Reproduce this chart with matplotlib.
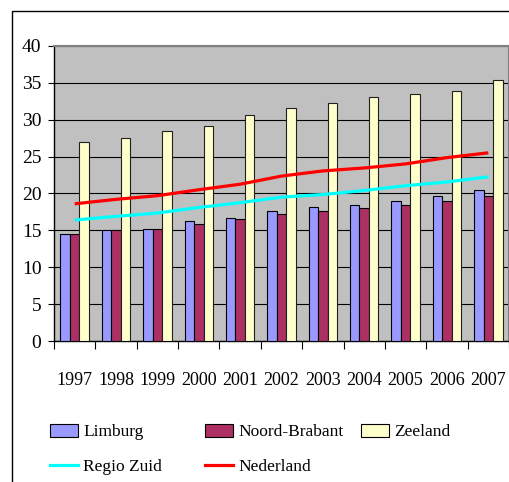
import matplotlib
matplotlib.use("Agg")
import matplotlib.pyplot as plt
import numpy as np
from matplotlib.patches import Rectangle, Patch
from matplotlib.lines import Line2D

years = ["1997", "1998", "1999", "2000", "2001", "2002", "2003", "2004", "2005", "2006", "2007"]
limburg = [14.5, 15.05, 15.25, 16.25, 16.65, 17.6, 18.2, 18.45, 19.0, 19.6, 20.4]
noord_brabant = [14.5, 15.0, 15.25, 15.9, 16.5, 17.25, 17.6, 18.05, 18.45, 19.0, 19.6]
zeeland = [27.0, 27.55, 28.5, 29.1, 30.65, 31.5, 32.2, 33.0, 33.4, 33.85, 35.4]
regio_zuid = [16.4, 16.9, 17.35, 18.1, 18.75, 19.5, 19.85, 20.4, 21.05, 21.55, 22.25]
nederland = [18.6, 19.2, 19.7, 20.5, 21.25, 22.35, 23.05, 23.45, 24.0, 24.85, 25.5]

plt.rcParams['font.family'] = ['Liberation Serif', 'DejaVu Serif']

W, H = 510, 482
fig = plt.figure(figsize=(W / 100, H / 100), dpi=100)
ax = fig.add_axes([54 / W, (H - 341.2) / H, (509 - 54) / W, (341.2 - 45.7) / H])
ax.set_facecolor('#C0C0C0')

x = np.arange(len(years))
bw = 0.23
c_lim, c_nb, c_zee = '#9999FF', '#AC3064', '#FFFFCC'
ax.bar(x - bw, limburg, bw, color=c_lim, edgecolor='black', linewidth=0.8, zorder=3)
ax.bar(x, noord_brabant, bw, color=c_nb, edgecolor='black', linewidth=0.8, zorder=3)
ax.bar(x + bw, zeeland, bw, color=c_zee, edgecolor='#202020', linewidth=0.8, zorder=3)
ax.plot(x, regio_zuid, color='#00FFFF', lw=2.3, zorder=4, solid_capstyle='butt')
ax.plot(x, nederland, color='#FF0000', lw=2.3, zorder=4, solid_capstyle='butt')

ax.set_xlim(-0.5, len(years) - 0.5)
ax.set_ylim(0, 40)
ax.set_yticks(np.arange(0, 41, 5))
ax.yaxis.grid(True, color='black', lw=0.8, zorder=1)
ax.set_axisbelow(True)
ax.tick_params(axis='y', direction='out', length=4, width=0.8, pad=5, labelsize=14)
ax.set_xticks(x)
ax.set_xticklabels(years)
ax.set_xticks(np.arange(-0.5, len(years), 1), minor=True)
ax.tick_params(axis='x', which='major', length=0, pad=22, labelsize=13)
ax.tick_params(axis='x', which='minor', direction='out', length=6, width=0.8)

for s in ['left', 'bottom']:
    ax.spines[s].set_color('black')
    ax.spines[s].set_linewidth(1.0)
for s in ['top', 'right']:
    ax.spines[s].set_color('#808080')
    ax.spines[s].set_linewidth(1.5)

# figure frame
fig.patches.append(Rectangle((12 / W, -0.1), 1.2, (H - 10.7) / H + 0.1,
                             transform=fig.transFigure, fill=False,
                             edgecolor='black', lw=1.0, clip_on=False))

leg_kw = dict(frameon=False, fontsize=12.5, handlelength=1.6, handleheight=0.75,
              handletextpad=0.3, labelspacing=1.05, borderpad=0, borderaxespad=0,
              loc='upper left')
h_lim = Patch(facecolor=c_lim, edgecolor='black', lw=0.8)
h_nb = Patch(facecolor=c_nb, edgecolor='black', lw=0.8)
h_zee = Patch(facecolor=c_zee, edgecolor='black', lw=0.8)
h_rz = Line2D([], [], color='#00FFFF', lw=2.3)
h_nl = Line2D([], [], color='#FF0000', lw=2.3)
top = (H - 424) / H
fig.legend([h_lim, h_rz], ['Limburg', 'Regio Zuid'],
           bbox_to_anchor=(50 / W, top), **leg_kw)
fig.legend([h_nb, h_nl], ['Noord-Brabant', 'Nederland'],
           bbox_to_anchor=(205 / W, top), **leg_kw)
fig.legend([h_zee], ['Zeeland'],
           bbox_to_anchor=(361 / W, top), **leg_kw)

fig.savefig('out.png', dpi=100)
